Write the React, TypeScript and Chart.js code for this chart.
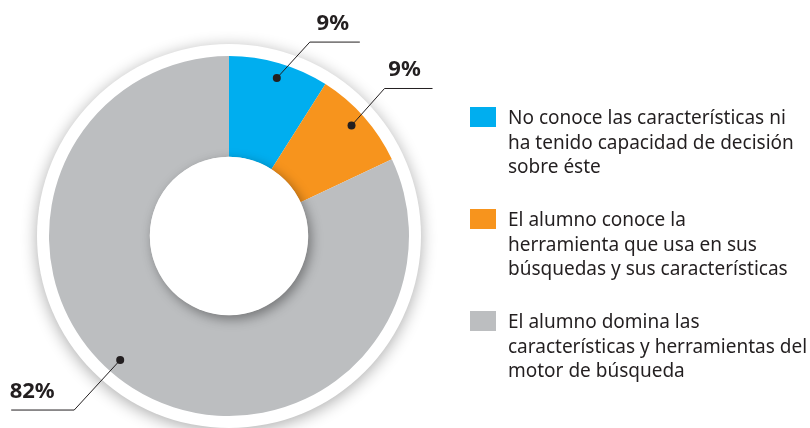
import React, { useEffect, useRef } from 'react';
import { Chart, registerables } from 'chart.js';

Chart.register(...registerables);

const categories: string[][] = [
  ['No conoce las características ni', 'ha tenido capacidad de decisión', 'sobre éste'],
  ['El alumno conoce la', 'herramienta que usa en sus', 'búsquedas y sus características'],
  ['El alumno domina las', 'características y herramientas del', 'motor de búsqueda'],
];
const values = [9, 9, 82];
const valueLabels = ['9%', '9%', '82%'];
const colors = ['#00AEEF', '#F7941D', '#BCBEC0'];

const TEXT = '#231F20';
const FONT = '"Noto Sans", sans-serif';

// leader-line layout for each slice label
const leaders = [
  { frac: 0.52, dx: 33, dy: -36, len: 50, tdx: 23 },
  { frac: 0.48, dx: 33, dy: -37, len: 48, tdx: 20 },
  { frac: 0.53, dx: -46, dy: 50, len: -63, tdx: -42 },
];

const decor = {
  id: 'decor',
  beforeDatasetsDraw(chart: any) {
    const ctx = chart.ctx as CanvasRenderingContext2D;
    const arc = chart.getDatasetMeta(0).data[0] as any;
    if (!arc) return;
    const { x, y, outerRadius } = arc;
    ctx.save();
    ctx.shadowColor = 'rgba(0,0,0,0.33)';
    ctx.shadowBlur = 16;
    ctx.shadowOffsetY = 3;
    ctx.fillStyle = '#ffffff';
    ctx.beginPath();
    ctx.arc(x, y, outerRadius + 12, 0, Math.PI * 2);
    ctx.fill();
    ctx.restore();
  },
  afterDatasetsDraw(chart: any) {
    const ctx = chart.ctx as CanvasRenderingContext2D;
    const meta = chart.getDatasetMeta(0);
    const arc0 = meta.data[0] as any;
    if (!arc0) return;
    const { x, y, innerRadius, outerRadius } = arc0;
    // inner hole shadow
    ctx.save();
    ctx.beginPath();
    ctx.arc(x, y, outerRadius, 0, Math.PI * 2);
    ctx.clip();
    ctx.shadowColor = 'rgba(0,0,0,0.38)';
    ctx.shadowBlur = 12;
    ctx.shadowOffsetX = 3;
    ctx.shadowOffsetY = 4;
    ctx.fillStyle = '#ffffff';
    ctx.beginPath();
    ctx.arc(x, y, innerRadius, 0, Math.PI * 2);
    ctx.fill();
    ctx.restore();

    // labels with leader lines
    meta.data.forEach((el: any, i: number) => {
      const L = leaders[i];
      const a = el.startAngle + L.frac * (el.endAngle - el.startAngle);
      const r = el.outerRadius - 15;
      const px = el.x + r * Math.cos(a);
      const py = el.y + r * Math.sin(a);
      const ex = px + L.dx;
      const ey = py + L.dy;
      ctx.save();
      ctx.strokeStyle = TEXT;
      ctx.lineWidth = 1;
      ctx.beginPath();
      ctx.moveTo(px, py);
      ctx.lineTo(ex, ey);
      ctx.lineTo(ex + L.len, ey);
      ctx.stroke();
      ctx.fillStyle = TEXT;
      ctx.beginPath();
      ctx.arc(px, py, 4, 0, Math.PI * 2);
      ctx.fill();
      ctx.font = `bold 22px ${FONT}`;
      ctx.textAlign = 'center';
      ctx.textBaseline = 'alphabetic';
      ctx.fillText(valueLabels[i], ex + L.tdx, ey - 12);
      ctx.restore();
    });

    // legend
    ctx.save();
    categories.forEach((lines, i) => {
      const top = 107 + i * 102;
      ctx.fillStyle = colors[i];
      ctx.fillRect(470, top, 26, 20);
      ctx.fillStyle = TEXT;
      ctx.font = `19px ${FONT}`;
      ctx.textAlign = 'left';
      ctx.textBaseline = 'alphabetic';
      lines.forEach((ln, j) => {
        ctx.fillText(ln, 508, top + 17 + j * 24.5);
      });
    });
    ctx.restore();
  },
};

export default function App() {
  const ref = useRef<HTMLCanvasElement>(null);
  useEffect(() => {
    if (!ref.current) return;
    const chart = new Chart(ref.current, {
      type: 'doughnut',
      data: {
        labels: categories.map((c) => c.join(' ')),
        datasets: [
          {
            data: values,
            backgroundColor: colors,
            borderWidth: 0,
            hoverOffset: 0,
          },
        ],
      },
      options: {
        responsive: false,
        animation: false,
        cutout: '44%',
        layout: { padding: { left: 49, right: 401, top: 56, bottom: 12 } },
        plugins: {
          legend: { display: false },
          tooltip: { enabled: false },
        },
        events: [],
      },
      plugins: [decor],
    });
    return () => chart.destroy();
  }, []);
  return (
    <div style={{ position: 'absolute', left: 0, top: 0, width: 810, height: 428, background: '#fff' }}>
      <canvas ref={ref} width={810} height={428} style={{ display: 'block' }} />
    </div>
  );
}
